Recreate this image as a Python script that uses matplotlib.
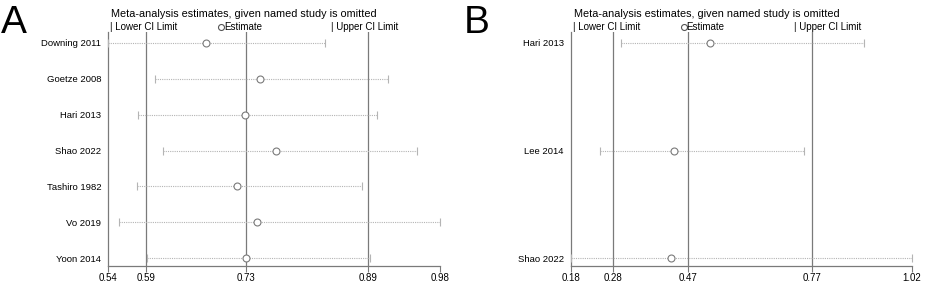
import numpy as np
import matplotlib
matplotlib.use('Agg')
import matplotlib.pyplot as plt
from matplotlib.lines import Line2D

plt.rcParams['font.family'] = ['Liberation Sans', 'DejaVu Sans']

# panel A: leave-one-out estimates
studies_a = ["Downing 2011", "Goetze 2008", "Hari 2013", "Shao 2022",
             "Tashiro 1982", "Vo 2019", "Yoon 2014"]
est_a = [0.669, 0.741, 0.721, 0.763, 0.711, 0.737, 0.723]
lo_a = [0.540, 0.602, 0.580, 0.612, 0.578, 0.554, 0.591]
hi_a = [0.827, 0.911, 0.896, 0.950, 0.877, 0.980, 0.887]
ref_a = [0.590, 0.722, 0.884]
ticks_a = [0.54, 0.590, 0.722, 0.884, 0.98]
ticklab_a = ["0.54", "0.59", "0.73", "0.89", "0.98"]

# panel B
studies_b = ["Hari 2013", "Lee 2014", "Shao 2022"]
est_b = [0.523, 0.435, 0.427]
lo_b = [0.303, 0.252, 0.180]
hi_b = [0.902, 0.755, 1.020]
ref_b = [0.285, 0.469, 0.774]
ticks_b = [0.18, 0.285, 0.469, 0.774, 1.02]
ticklab_b = ["0.18", "0.28", "0.47", "0.77", "1.02"]

W, H = 945, 306
fig = plt.figure(figsize=(W / 100., H / 100.), dpi=100)

AXC = '#7a7a7a'
CIC = '#b4b4b4'
FS = 7.0


def px(x, y):
    return x / float(W), 1 - y / float(H)


def panel(left, right, letter, studies, est, lo, hi, ref, ticks, ticklab):
    top, bottom = 32., 265.7
    r0, r1 = 43., 258.
    x0, y0 = px(left, bottom)
    ax = fig.add_axes([x0, y0, (right - left) / W, (bottom - top) / H])
    n = len(studies)
    s = (r1 - r0) / (n - 1)
    ypos = np.arange(n)
    ax.set_ylim((bottom - r0) / s, (top - r0) / s)
    ax.set_xlim(ticks[0], ticks[-1])

    for r in ref:
        ax.axvline(r, color=AXC, lw=0.9, zorder=1)
    for i in range(n):
        ax.plot([lo[i], hi[i]], [ypos[i], ypos[i]], ls=(0, (1, 1)), color=CIC, lw=0.8, zorder=2)
        ax.plot([lo[i], hi[i]], [ypos[i], ypos[i]], ls='none', marker='|', ms=6,
                mew=0.8, color=CIC, zorder=3, clip_on=False)
    ax.plot(est, ypos, ls='none', marker='o', ms=5, mfc='white', mec=AXC, mew=0.8, zorder=4)

    for sp in ['top', 'right']:
        ax.spines[sp].set_visible(False)
    for sp in ['left', 'bottom']:
        ax.spines[sp].set_color(AXC)
        ax.spines[sp].set_linewidth(0.9)
    ax.set_yticks(ypos)
    ax.set_yticklabels(studies, fontsize=6.8)
    ax.tick_params(axis='y', length=0, pad=5)
    ax.set_xticks(ticks)
    ax.set_xticklabels(ticklab, fontsize=FS)
    ax.tick_params(axis='x', length=4, width=0.8, color=AXC, pad=1)

    # header and legend
    tx = left + 3
    fig.text(*px(tx, 14), "Meta-analysis estimates, given named study is omitted",
             fontsize=7.8, va='center', ha='left')
    fig.text(*px(tx - 1, 26.5), "| Lower CI Limit", fontsize=FS, va='center', ha='left')
    fig.add_artist(Line2D([(tx + 110) / W], [1 - 26.5 / H], marker='o', ms=4.3, mfc='white',
                          mec='#555555', mew=0.8, ls='none'))
    fig.text(*px(tx + 113, 26.5), "Estimate", fontsize=FS, va='center', ha='left')
    fig.text(*px(tx + 220, 26.5), "| Upper CI Limit", fontsize=FS, va='center', ha='left')
    fig.text(*px(left - 107, 23), letter, fontsize=28, va='center', ha='left')
    return ax


panel(108.3, 440.0, "A", studies_a, est_a, lo_a, hi_a, ref_a, ticks_a, ticklab_a)
panel(570.7, 911.7, "B", studies_b, est_b, lo_b, hi_b, ref_b, ticks_b, ticklab_b)

fig.savefig("out.png", dpi=100)
